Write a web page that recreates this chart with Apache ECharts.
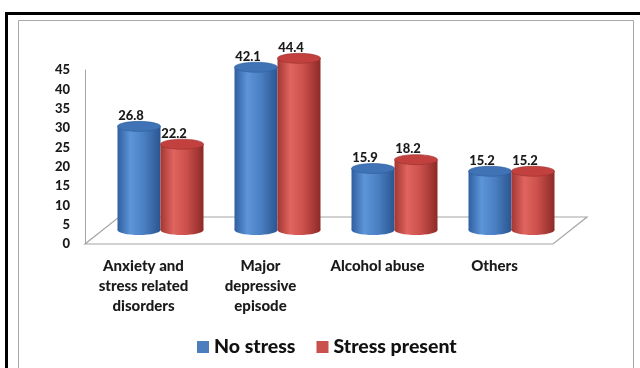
<!DOCTYPE html>
<html><head><meta charset="utf-8">
<script src="https://cdn.jsdelivr.net/npm/echarts@6/dist/echarts.min.js"></script>
<style>html,body{margin:0;padding:0;background:#fff}#c{width:640px;height:368px}</style>
</head><body><div id="c"></div>
<script>
const categories = ['Anxiety and\nstress related\ndisorders', 'Major\ndepressive\nepisode', 'Alcohol abuse', 'Others'];
const noStress = [26.8, 42.1, 15.9, 15.2];
const stressPresent = [22.2, 44.4, 18.2, 15.2];
const seriesNames = ['No stress', 'Stress present'];

const FONT = 'Lato, "Liberation Sans", sans-serif';
const DX = 17, DY = -14;      // depth offset of the bars' plane
const BDX = 34, BDY = -27;    // depth offset of the back of the floor
const BW = 43, RY = 5;

const palette = {
  blue: { stops: ['#2f5f9f', '#5d95d9', '#4b81c4', '#2b5591'], top: '#3f73b6', edge: '#2e5c98', main: '#4a7ebf' },
  red:  { stops: ['#a33733', '#e0645f', '#cc504c', '#8c2a27'], top: '#c2413e', edge: '#9a302d', main: '#c9504d' }
};

function cylinder(col, side) {
  return function (params, api) {
    const i = api.value(0), v = api.value(1);
    const base = api.coord([i, 0]);
    const top = api.coord([i, v]);
    const cx = base[0] + DX + side * BW / 2;
    const by = base[1] + DY, ty = top[1] + DY;
    const grad = () => new echarts.graphic.LinearGradient(0, 0, 1, 0, [
      { offset: 0, color: col.stops[0] },
      { offset: 0.3, color: col.stops[1] },
      { offset: 0.6, color: col.stops[2] },
      { offset: 1, color: col.stops[3] }
    ]);
    return {
      type: 'group',
      children: [
        { type: 'ellipse', shape: { cx: cx, cy: by, rx: BW / 2, ry: RY }, style: { fill: grad() } },
        { type: 'rect', shape: { x: cx - BW / 2, y: ty, width: BW, height: by - ty }, style: { fill: grad() } },
        { type: 'ellipse', shape: { cx: cx, cy: ty, rx: BW / 2, ry: RY }, style: { fill: col.top, stroke: col.edge, lineWidth: 0.6 } },
        { type: 'text', style: { text: String(v), x: cx - 8, y: ty - RY + 1, align: 'center', verticalAlign: 'bottom',
            font: '900 13px ' + FONT, fill: '#1a1a1a' } }
      ]
    };
  };
}

const chart = echarts.init(document.getElementById('c'), null, { renderer: 'canvas' });
chart.setOption({
  animation: false,
  backgroundColor: '#ffffff',
  graphic: [
    { type: 'rect', shape: { x: 6.5, y: 13.5, width: 700, height: 400 }, style: { fill: 'none', stroke: '#000', lineWidth: 3 }, z: 100 },
    { type: 'rect', shape: { x: 18.5, y: 20.5, width: 615, height: 400 }, style: { fill: 'none', stroke: '#a8a8a8', lineWidth: 1 }, z: 100 }
  ],
  grid: { left: 85, right: 87, top: 70, bottom: 124 },
  legend: {
    data: seriesNames,
    left: 192, top: 332,
    icon: 'rect', itemWidth: 12, itemHeight: 12, itemGap: 21,
    textStyle: { fontFamily: FONT, fontWeight: 900, fontSize: 19.5, color: '#111' }
  },
  xAxis: {
    type: 'category', data: categories,
    axisLine: { show: false }, axisTick: { show: false },
    axisLabel: { margin: 12, fontFamily: FONT, fontWeight: 900, fontSize: 15, lineHeight: 20, color: '#1a1a1a', interval: 0 }
  },
  yAxis: {
    type: 'value', min: 0, max: 45, interval: 5,
    axisLine: { show: true, lineStyle: { color: '#a6a6a6', width: 1 } },
    axisTick: { show: false }, splitLine: { show: false },
    axisLabel: { margin: 15, fontFamily: FONT, fontWeight: 900, fontSize: 13, color: '#1a1a1a' }
  },
  series: [
    {
      type: 'custom', name: 'floor', silent: true, z: 1,
      data: [[0]],
      renderItem: function (params, api) {
        const cs = params.coordSys;
        const y0 = cs.y + cs.height;
        return {
          type: 'polygon',
          shape: { points: [[cs.x, y0], [cs.x + cs.width, y0], [cs.x + cs.width + BDX, y0 + BDY], [cs.x + BDX, y0 + BDY]] },
          style: { fill: '#ffffff', stroke: '#a6a6a6', lineWidth: 1.2 }
        };
      }
    },
    {
      type: 'custom', name: seriesNames[0], z: 3,
      itemStyle: { color: palette.blue.main },
      data: noStress.map((v, i) => [i, v]),
      encode: { x: 0, y: 1 },
      renderItem: cylinder(palette.blue, -1)
    },
    {
      type: 'custom', name: seriesNames[1], z: 3,
      itemStyle: { color: palette.red.main },
      data: stressPresent.map((v, i) => [i, v]),
      encode: { x: 0, y: 1 },
      renderItem: cylinder(palette.red, 1)
    }
  ]
});
</script></body></html>
